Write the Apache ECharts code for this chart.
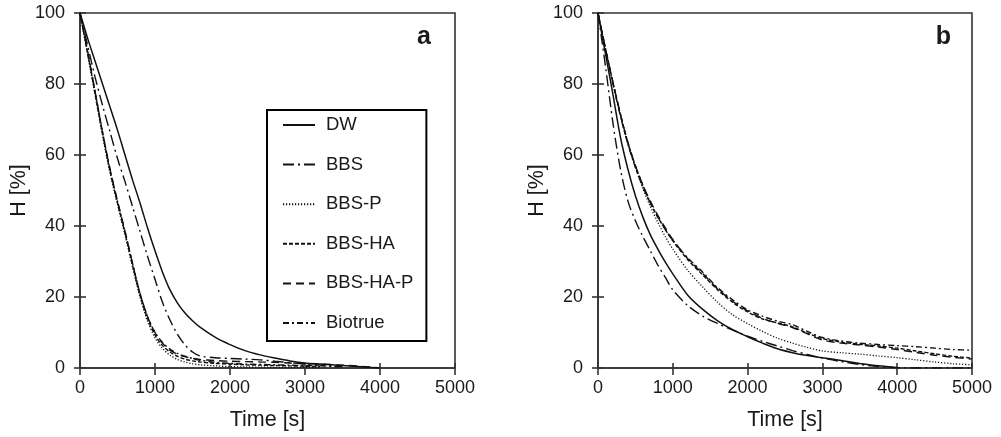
<!DOCTYPE html>
<html>
<head>
<meta charset="utf-8">
<script src="https://cdn.jsdelivr.net/npm/echarts@6/dist/echarts.min.js"></script>
<style>
html,body{margin:0;padding:0;background:#fff;}
#chart{width:1001px;height:437px;}
</style>
</head>
<body>
<div id="chart"></div>
<script>
// ---------- DATA ----------
var seriesNames = ['DW', 'BBS', 'BBS-P', 'BBS-HA', 'BBS-HA-P', 'Biotrue'];
var xTicks = [0, 1000, 2000, 3000, 4000, 5000];
var yTicks = [0, 20, 40, 60, 80, 100];

// Panel a: time [s]
var timeA = [0,100,200,300,400,500,600,700,800,900,1000,1100,1200,1300,1400,1500,1600,1800,2000,2200,2400,2600,2800,3000,3200,3500,3800,4000];
var aDW      = [100,93,86.5,80,73.5,67,60,53,46.5,39.5,33,27,22,18.3,15.5,13.3,11.5,8.7,6.6,4.9,3.7,2.8,2.0,1.4,1.1,0.7,0.3,0];
var aBBS     = [100,91,82,74,66.5,59,52.5,45.5,38.5,31.5,25,18.5,13.5,9.5,6.5,4.5,3.4,2.9,2.7,2.5,2.3,1.9,1.5,1.1,0.8,0.4,null,null];
var aBBSP    = [100,88.5,77,65.5,55,46,37.5,28.5,20,13.2,8.5,5.5,3.6,2.4,1.7,1.2,0.9,0.6,0.4,0.3,0.25,0.2,0.15,0.1,0.05,null,null,null];
var aBBSHA   = [100,89,77.5,66,55.5,46.5,38,29,20.5,14,9.3,6.3,4.5,3.3,2.5,2.0,1.7,1.3,1.1,0.9,0.8,0.7,0.6,0.5,0.4,null,null,null];
var aBBSHAP  = [100,89.5,78,66.5,56,47,38.5,29.5,21,14.5,10,7,5,3.9,3.2,2.7,2.4,2.1,1.9,1.8,1.7,1.6,1.4,1.2,1.1,0.8,0.4,0];
var aBiotrue = [100,89,78,66.5,56,47,38.5,29.5,21,14.5,10,7.2,5.3,4.1,3.3,2.7,2.2,1.6,1.3,1.1,1.0,0.9,0.8,0.7,0.6,0.3,null,null];

// Panel b: time [s]
var timeB = [0,100,200,300,400,500,600,700,800,900,1000,1200,1400,1600,1800,2000,2200,2400,2600,2800,3000,3250,3500,3750,4000,4250,4500,4750,5000];
var bDW      = [100,88.5,77,65,56,48.5,42.5,37.5,33.5,29.8,26.5,20.5,16.5,13.3,10.8,8.8,7.0,5.4,4.3,3.5,2.9,2.1,1.3,0.6,0.1,null,null,null,null];
var bBBS     = [100,85,69,56,47,41.5,37,33,29,25.5,22,17.6,14.6,12.5,10.7,9.0,7.5,6.2,4.9,3.8,2.8,1.8,1.0,0.4,0.1,0,0,0,0];
var bBBSP    = [100,90,80,71,63,56.5,50.5,45.5,41,37,33.5,27.5,22.8,18.5,15,12.5,10.3,8.4,7.0,5.8,4.8,4.3,3.9,3.4,2.9,2.3,1.7,1.2,0.9];
var bBBSHA   = [100,90,80.5,71.5,63.5,57,51.5,46.5,42.5,39,35.8,30.5,26.2,22,18.5,15.8,13.8,12.7,11.6,9.8,8.3,7.3,6.7,6.2,5.6,4.8,4.0,3.3,2.8];
var bBBSHAP  = [100,90,80.5,71.5,63.5,57,51.5,47,43,39.5,36.2,30.8,26.6,22.3,18.8,16.1,14.0,12.6,11.4,9.6,7.9,7.0,6.5,5.9,5.2,4.4,3.6,3.0,2.5];
var bBiotrue = [100,89.5,80,71,63,56.5,51,46.5,42.5,39,36,31,27,22.6,19.2,16.4,14.6,13.2,12.2,10.3,8.6,7.6,7.0,6.6,6.3,6.0,5.6,5.2,5.0];

// ---------- STYLE ----------
var FONT = "'Liberation Sans', Arial, sans-serif";
var TXT = '#1a1a1a';
var AX = '#333';
var lineTypes = {
  'DW': 'solid',
  'BBS': [11, 4, 2, 4],
  'BBS-P': [1.2, 1.8],
  'BBS-HA': [4, 2],
  'BBS-HA-P': [8, 5],
  'Biotrue': [6, 3, 2, 3]
};
var lineWidths = {'DW':1.5,'BBS':1.4,'BBS-P':1.3,'BBS-HA':1.4,'BBS-HA-P':1.4,'Biotrue':1.4};

function pairs(t, v) {
  var out = [];
  for (var i = 0; i < t.length; i++) out.push([t[i], v[i]]);
  return out;
}

function mkSeries(name, t, v, xi, yi) {
  return {
    name: name, type: 'line', xAxisIndex: xi, yAxisIndex: yi,
    data: pairs(t, v), symbol: 'none', smooth: 0.3, connectNulls: false,
    lineStyle: {color: '#111', width: lineWidths[name], type: lineTypes[name], cap: 'butt'},
    itemStyle: {color: '#111'},
    z: 3
  };
}

function plain(v) { return String(v); }

function xAxes(grid) {
  return [
    {gridIndex: grid, type: 'value', min: 0, max: 5000, interval: 1000, position: 'bottom',
     axisLine: {show: true, lineStyle: {color: AX, width: 1.6}},
     axisTick: {show: true, inside: false, length: 7, lineStyle: {color: AX, width: 1.6}},
     axisLabel: {fontSize: 18, fontFamily: FONT, color: TXT, margin: 11, formatter: plain},
     splitLine: {show: false},
     name: 'Time [s]', nameLocation: 'middle', nameGap: 41,
     nameTextStyle: {fontSize: 21.5, fontFamily: FONT, color: TXT}},
    {gridIndex: grid, type: 'value', min: 0, max: 5000, interval: 1000, position: 'bottom',
     axisLine: {show: false},
     axisTick: {show: true, inside: true, length: 5, lineStyle: {color: AX, width: 1.6}},
     axisLabel: {show: false}, splitLine: {show: false}}
  ];
}
function yAxes(grid) {
  return [
    {gridIndex: grid, type: 'value', min: 0, max: 100, interval: 20, position: 'left',
     axisLine: {show: true, lineStyle: {color: AX, width: 1.6}},
     axisTick: {show: true, inside: false, length: 6, lineStyle: {color: AX, width: 1.6}},
     axisLabel: {fontSize: 18, fontFamily: FONT, color: TXT, margin: 15, formatter: plain},
     splitLine: {show: false},
     name: 'H [%]', nameLocation: 'middle', nameGap: 50,
     nameTextStyle: {fontSize: 21.5, fontFamily: FONT, color: TXT}},
    {gridIndex: grid, type: 'value', min: 0, max: 100, interval: 20, position: 'left',
     axisLine: {show: false},
     axisTick: {show: true, inside: true, length: 6, lineStyle: {color: AX, width: 1.6}},
     axisLabel: {show: false}, splitLine: {show: false}}
  ];
}

var seriesA = [aDW, aBBS, aBBSP, aBBSHA, aBBSHAP, aBiotrue];
var seriesB = [bDW, bBBS, bBBSP, bBBSHA, bBBSHAP, bBiotrue];
var allSeries = [];
seriesNames.forEach(function (n, i) { allSeries.push(mkSeries(n, timeA, seriesA[i], 0, 0)); });
seriesNames.forEach(function (n, i) { allSeries.push(mkSeries(n, timeB, seriesB[i], 2, 2)); });

var chart = echarts.init(document.getElementById('chart'), null, {renderer: 'canvas'});
chart.setOption({
  animation: false,
  backgroundColor: '#fff',
  textStyle: {fontFamily: FONT},
  grid: [
    {left: 80, top: 13, width: 375, height: 355, show: true, borderColor: AX, borderWidth: 1.6, backgroundColor: 'transparent'},
    {left: 598, top: 13, width: 374, height: 355, show: true, borderColor: AX, borderWidth: 1.6, backgroundColor: 'transparent'}
  ],
  xAxis: xAxes(0).concat(xAxes(1)),
  yAxis: yAxes(0).concat(yAxes(1)),
  legend: {
    show: true, orient: 'vertical', left: 267, top: 110,
    data: seriesNames, selectedMode: false,
    itemWidth: 32, itemHeight: 14, itemGap: 19.6,
    padding: [5, 13, 8, 15],
    backgroundColor: '#fff', borderColor: '#000', borderWidth: 2,
    itemStyle: {opacity: 0, borderWidth: 0},
    textStyle: {fontSize: 18.5, fontFamily: FONT, color: TXT, lineHeight: 20, padding: [0, 0, 0, 6]}
  },
  graphic: [
    {type: 'text', style: {x: 431, y: 50, text: 'a', align: 'right', verticalAlign: 'bottom', font: 'bold 25px ' + FONT, fill: TXT}},
    {type: 'text', style: {x: 951, y: 50, text: 'b', align: 'right', verticalAlign: 'bottom', font: 'bold 25px ' + FONT, fill: TXT}}
  ],
  series: allSeries
});
</script>
</body>
</html>
